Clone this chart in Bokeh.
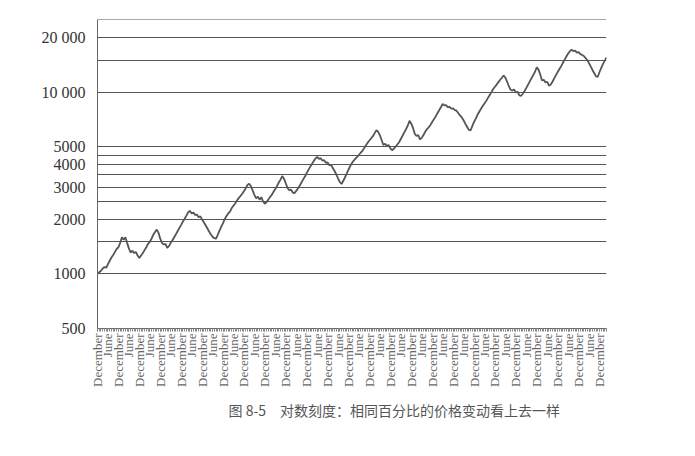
import math
from bokeh.plotting import figure
from bokeh.models import FixedTicker, Title, Range1d
from bokeh.embed import file_html
from bokeh.resources import INLINE

# monthly index values (starting December, month 0)
prices = [
    1000, 1020, 1040, 1070, 1090, 1080, 1130, 1180, 1230, 1270, 1320, 1370, 1400, 1480, 1590, 1540, 1590,
    1480, 1380, 1310, 1340, 1300, 1320, 1260, 1220, 1260,
    1300, 1350, 1400, 1460, 1500, 1560, 1640, 1700, 1750, 1680,
    1560, 1480, 1450, 1460, 1390, 1420,
    1480, 1530, 1590, 1650, 1720, 1790, 1860, 1940, 2010, 2090, 2180, 2220,
    2150, 2170, 2110, 2120, 2050, 2070, 1990, 1920,
    1850, 1780, 1710, 1650, 1600, 1570, 1560,
    1640, 1730, 1820, 1900, 2000, 2080, 2150, 2200, 2300, 2370, 2440, 2530, 2610, 2680, 2760, 2850, 2950, 3080, 3130, 3040,
    2880, 2720, 2600, 2660, 2560, 2640, 2500, 2430, 2480,
    2560, 2650, 2720, 2830, 2930, 3050, 3180, 3300, 3450, 3340,
    3150, 2970, 2880, 2910, 2800, 2780, 2860,
    2950, 3050, 3180, 3310, 3430, 3580, 3730, 3880, 4020, 4170, 4300, 4400, 4290, 4330,
    4200, 4220, 4080, 4100, 3960, 3980, 3820,
    3680, 3520, 3350, 3200, 3120,
    3250, 3400, 3560, 3750, 3920, 4080, 4200, 4300, 4400, 4520, 4640, 4750, 4920, 5100, 5270, 5420, 5570, 5720, 5950, 6180, 6050,
    5780, 5450, 5120, 5200, 5050, 5120, 4900, 4790, 4880,
    5000, 5150, 5300, 5520, 5750, 6000, 6250, 6550, 6950, 6700,
    6350, 5900, 5730, 5800, 5500, 5600,
    5800, 6050, 6250, 6400, 6600, 6850, 7100, 7350, 7650, 7950, 8250, 8600, 8450,
    8480, 8250, 8300, 8100, 8150, 7950, 7900, 7650, 7450, 7250,
    7000, 6700, 6450, 6200, 6160,
    6500, 6850, 7150, 7500, 7800, 8100, 8400, 8650, 8950, 9300, 9650, 10000, 10400, 10700, 11000, 11350, 11700, 12000, 12350, 12000,
    11400, 10800, 10300, 10200, 10350, 9950, 10050, 9600, 9550,
    9800, 10150, 10550, 11000, 11450, 11950, 12450, 12950, 13700, 13300,
    12500, 11600, 11700, 11300, 11400, 10850, 11000,
    11400, 11900, 12400, 12900, 13400, 13900, 14500, 15100, 15700, 16300, 16800, 17150, 16800,
    16900, 16500, 16600, 16200, 16000, 15800, 15400, 15000,
    14400, 13800, 13200, 12700, 12200, 12150,
    12900, 13600, 14300, 14900, 15500,
]
months = list(range(len(prices)))

# axis ticks
x_tick_months = list(range(0, 289, 6))
x_tick_labels = ["December" if (m // 6) % 2 == 0 else "June" for m in x_tick_months]
y_tick_values = [500, 1000, 2000, 3000, 4000, 5000, 10000, 20000]
y_tick_labels = ["500", "1000", "2000", "3000", "4000", "5000", "10 000", "20 000"]
y_grid_values = [1000, 1500, 2000, 2500, 3000, 3500, 4000, 4500, 5000, 10000, 15000, 20000, 25000]

caption = "图 8-5\u3000对数刻度：相同百分比的价格变动看上去一样"

p = figure(width=679, height=440, y_axis_type="log",
           x_range=Range1d(0, 292), y_range=Range1d(500, 25100),
           output_backend="svg", toolbar_location=None,
           min_border_left=97, min_border_right=73, min_border_top=19, min_border_bottom=112)
p.outline_line_color = None
p.background_fill_color = "white"
p.border_fill_color = "white"

p.line(months, prices, line_color="#555555", line_width=1.8)

# y axis
p.yaxis.ticker = FixedTicker(ticks=y_tick_values)
p.yaxis.major_label_overrides = {v: t for v, t in zip(y_tick_values, y_tick_labels)}
p.yaxis.major_label_text_font = "Liberation Serif"
p.yaxis.major_label_text_font_size = "16px"
p.yaxis.major_label_text_color = "#333333"
p.yaxis.major_tick_line_color = None
p.yaxis.minor_tick_line_color = None
p.yaxis.axis_line_color = "#666666"
p.yaxis.major_label_standoff = 6

# x axis
p.xaxis.ticker = FixedTicker(ticks=x_tick_months, minor_ticks=months)
p.xaxis.major_label_overrides = {m: t for m, t in zip(x_tick_months, x_tick_labels)}
p.xaxis.major_label_orientation = math.pi / 2
p.xaxis.major_label_text_font = "Liberation Serif"
p.xaxis.major_label_text_font_size = "13px"
p.xaxis.major_label_text_color = "#666666"
p.xaxis.axis_line_color = "#666666"
p.xaxis.major_tick_line_color = "#777777"
p.xaxis.minor_tick_line_color = "#888888"
p.xaxis.major_tick_in = 0
p.xaxis.major_tick_out = 3
p.xaxis.minor_tick_in = 0
p.xaxis.minor_tick_out = 3
p.xaxis.major_label_standoff = 2

# grids
p.xgrid.grid_line_color = None
p.ygrid.ticker = FixedTicker(ticks=y_grid_values)
p.ygrid.grid_line_color = "#555555"
p.ygrid.grid_line_width = 1

t = Title(text=caption, align="left", offset=131, text_font="Noto Sans CJK SC",
          text_font_size="14px", text_font_style="normal", text_color="#555555", standoff=16)
p.add_layout(t, "below")

open("out.html", "w").write(file_html(p, INLINE))
